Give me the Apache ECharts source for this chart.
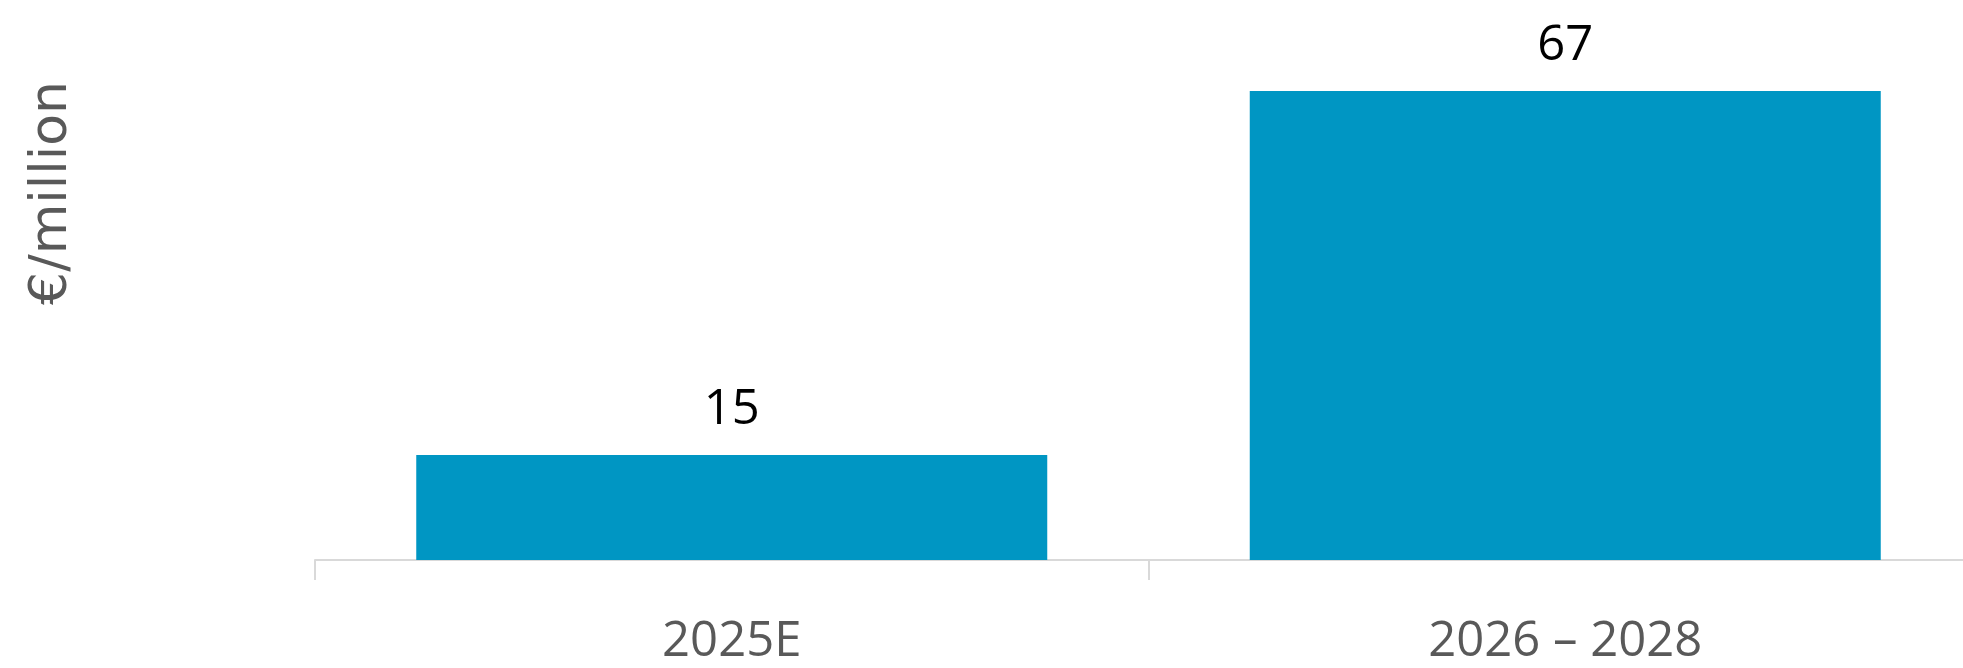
<!DOCTYPE html>
<html>
<head>
<meta charset="utf-8">
<script src="https://cdn.jsdelivr.net/npm/echarts@6/dist/echarts.min.js"></script>
<style>
  html, body { margin: 0; padding: 0; background: #ffffff; }
  #chart { width: 1963px; height: 668px; }
</style>
</head>
<body>
<div id="chart"></div>
<script>
// Investment by period, in € million
const categories = ['2025E', '2026 – 2028'];
const investment = [15, 67];
const axisName = '€/million';

const FONT = '"Open Sans", "Noto Sans", sans-serif';
const BAR_COLOR = '#0096C3';
const TEXT_GREY = '#595959';

const chart = echarts.init(document.getElementById('chart'));

chart.setOption({
  backgroundColor: '#ffffff',
  animation: false,
  // the plot runs slightly past the right edge of the canvas
  grid: {
    left: 315, top: 0, width: 1667, height: 560,
    containLabel: false,
    outerBoundsMode: 'none'
  },
  xAxis: {
    type: 'category',
    data: categories,
    axisLine: { show: true, lineStyle: { color: '#d9d9d9', width: 2 } },
    axisTick: { show: true, length: 20, lineStyle: { color: '#d9d9d9', width: 2 } },
    axisLabel: { color: TEXT_GREY, fontFamily: FONT, fontSize: 49, margin: 58 }
  },
  yAxis: {
    type: 'value',
    min: 0,
    max: 80,
    show: false
  },
  graphic: [{
    type: 'text',
    x: 52,
    y: 193,
    rotation: Math.PI / 2,
    style: {
      text: axisName,
      fill: TEXT_GREY,
      font: '52px "DejaVu Sans", sans-serif',
      align: 'center',
      verticalAlign: 'middle'
    }
  }],
  series: [{
    type: 'bar',
    data: investment,
    barWidth: 631,
    itemStyle: { color: BAR_COLOR },
    label: {
      show: true,
      position: 'top',
      distance: 20,
      color: '#000000',
      fontFamily: FONT,
      fontSize: 49
    }
  }]
});
</script>
</body>
</html>
